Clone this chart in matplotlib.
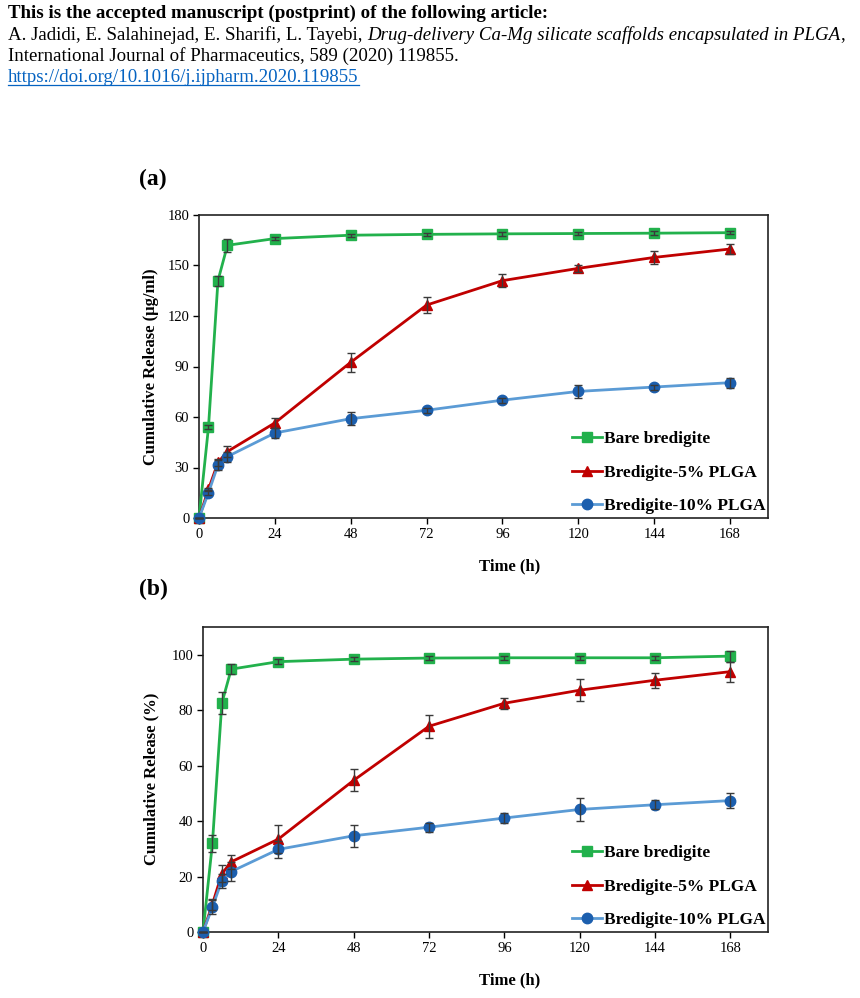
import matplotlib
matplotlib.use("Agg")
import matplotlib.pyplot as plt
from matplotlib.lines import Line2D

plt.rcParams['font.family'] = ['Liberation Serif', 'DejaVu Serif']

# ---------------- data ----------------
time_h = [0, 3, 6, 9, 24, 48, 72, 96, 120, 144, 168]
xticks = [0, 24, 48, 72, 96, 120, 144, 168]
series_names = ["Bare bredigite", "Bredigite-5% PLGA", "Bredigite-10% PLGA"]

# (a) cumulative release, ug/ml
a_bare = [0, 54, 141, 162, 166, 168, 168.5, 168.8, 169, 169.2, 169.5]
a_bare_err = [0, 1, 3, 4, 1, 1, 1, 1, 1, 1, 1]
a_p5 = [0, 17, 33, 39.5, 56.5, 92.5, 126.5, 141, 148.3, 154.8, 159.8]
a_p5_err = [0, 1, 2, 3, 3, 5.5, 4.5, 4, 2, 4, 3]
a_p10 = [0, 15, 31.5, 36.5, 50.5, 59, 64, 70, 75.2, 77.8, 80.4]
a_p10_err = [0, 1.5, 3, 3, 3, 4, 1.5, 1.5, 4, 1.5, 3]
a_yticks = [0, 30, 60, 90, 120, 150, 180]

# (b) cumulative release, %
b_bare = [0, 32, 82.5, 94.8, 97.5, 98.4, 98.8, 98.9, 98.9, 98.9, 99.5]
b_bare_err = [0, 3, 4, 1.7, 0.8, 0.8, 0.8, 0.8, 0.8, 0.8, 2]
b_p5 = [0, 10, 21, 25.3, 33.5, 54.7, 74.2, 82.5, 87.2, 90.8, 93.9]
b_p5_err = [0, 2, 3, 2.5, 5, 4, 4.2, 2, 4, 2.7, 3.6]
b_p10 = [0, 9, 18.5, 21.8, 29.8, 34.7, 37.8, 41.1, 44.2, 45.9, 47.4]
b_p10_err = [0, 2.5, 2.5, 3.3, 3.2, 4, 1.6, 1.8, 4, 1.7, 2.8]
b_yticks = [0, 20, 40, 60, 80, 100]

green = '#22b14c'
red = '#c00000'
blue_line = '#5b9bd5'
blue_mk = '#1c5fae'
ecol = '#3a3a3a'

W, H = 860, 998
fig = plt.figure(figsize=(W / 100, H / 100), dpi=100)


def px_axes(l, t, r, b):
    return fig.add_axes([l / W, 1 - b / H, (r - l) / W, (b - t) / H])


def draw_panel(ax, ys, errs, yticks, ylim):
    styles = [
        dict(color=green, marker='s', ms=6.5, mfc=green, mec=green),
        dict(color=red, marker='^', ms=6.5, mfc=red, mec=red),
        dict(color=blue_line, marker='o', ms=7.5, mfc=blue_mk, mec=blue_mk),
    ]
    handles = []
    for y, e, st, name in zip(ys, errs, styles, series_names):
        ax.errorbar(time_h, y, yerr=e, fmt='none', ecolor=ecol, elinewidth=1.0,
                    capsize=3, capthick=1.0, zorder=4, clip_on=False)
        ln, = ax.plot(time_h, y, lw=2.0, label=name, zorder=3, clip_on=False, **st)
        handles.append(ln)
    ax.set_xlim(0, 180)
    ax.set_ylim(*ylim)
    ax.set_xticks(xticks)
    ax.set_yticks(yticks)
    ax.tick_params(direction='out', length=4, width=1, labelsize=10.5, pad=3)
    for s in ax.spines.values():
        s.set_linewidth(1.2)
        s.set_color('#222222')
    leg = ax.legend(handles=handles, loc='lower right', bbox_to_anchor=(1.014, -0.022),
                    frameon=False, handlelength=1.75, handletextpad=0.12,
                    labelspacing=1.0, borderaxespad=0.2, numpoints=1,
                    prop={'weight': 'bold', 'size': 12.5})
    return leg


axa = px_axes(199, 215, 768, 518)
draw_panel(axa, [a_bare, a_p5, a_p10], [a_bare_err, a_p5_err, a_p10_err],
           a_yticks, (0, 180))
axb = px_axes(203, 627, 768, 932)
draw_panel(axb, [b_bare, b_p5, b_p10], [b_bare_err, b_p5_err, b_p10_err],
           b_yticks, (0, 110))

# axis labels
fig.text(151 / W, 1 - 367 / H, 'Cumulative Release (µg/ml)', rotation=90,
         ha='center', va='center', fontsize=12, fontweight='bold')
fig.text(151 / W, 1 - 779 / H, 'Cumulative Release (%)', rotation=90,
         ha='center', va='center', fontsize=12, fontweight='bold')
fig.text(510 / W, 1 - 566 / H, 'Time (h)', ha='center', va='center',
         fontsize=12, fontweight='bold')
fig.text(510 / W, 1 - 980 / H, 'Time (h)', ha='center', va='center',
         fontsize=12, fontweight='bold')

# panel letters
fig.text(153 / W, 1 - 179 / H, '(a)', ha='center', va='center', fontsize=17, fontweight='bold')
fig.text(153 / W, 1 - 589 / H, '(b)', ha='center', va='center', fontsize=17, fontweight='bold')

# header
fs = 13.6
fig.text(8 / W, 1 - 13 / H, 'This is the accepted manuscript (postprint) of the following article:',
         ha='left', va='center', fontsize=fs, fontweight='bold')
t1 = fig.text(8 / W, 1 - 35 / H, 'A. Jadidi, E. Salahinejad, E. Sharifi, L. Tayebi, ',
              ha='left', va='center', fontsize=fs)
fig.text(8 / W, 1 - 56 / H, 'International Journal of Pharmaceutics, 589 (2020) 119855.',
         ha='left', va='center', fontsize=fs)
link = fig.text(8 / W, 1 - 77 / H, 'https://doi.org/10.1016/j.ijpharm.2020.119855',
                ha='left', va='center', fontsize=fs, color='#0563c1')

fig.canvas.draw()
r = fig.canvas.get_renderer()
bb = t1.get_window_extent(r)
t2 = fig.text(bb.x1 / W, 1 - 35 / H, 'Drug-delivery Ca-Mg silicate scaffolds encapsulated in PLGA',
              ha='left', va='center', fontsize=fs, style='italic')
bb2 = t2.get_window_extent(r)
fig.text(bb2.x1 / W, 1 - 35 / H, ',', ha='left', va='center', fontsize=fs)
lb = link.get_window_extent(r)
fig.add_artist(Line2D([lb.x0 / W, lb.x1 / W], [(lb.y0 + 1) / H, (lb.y0 + 1) / H],
                      color='#0563c1', lw=0.9, transform=fig.transFigure))

fig.savefig('out.png', dpi=100)
